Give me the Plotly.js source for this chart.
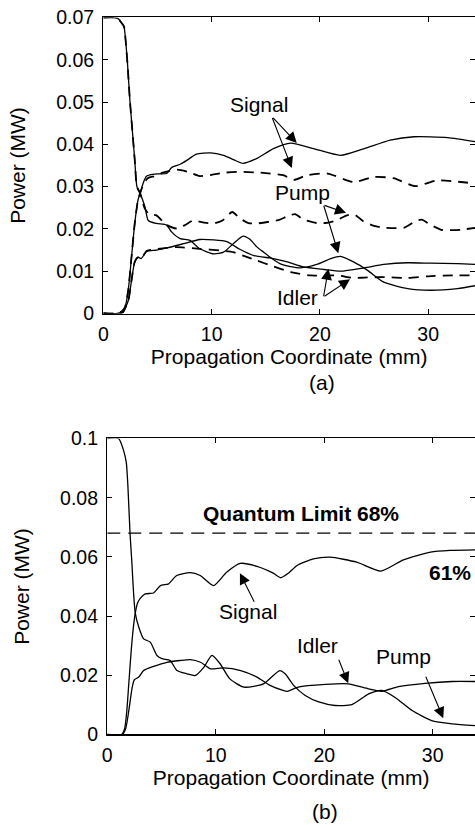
<!DOCTYPE html>
<html><head><meta charset="utf-8">
<script src="https://cdn.plot.ly/plotly-3.0.1.min.js"></script>
<style>html,body{margin:0;padding:0;background:#fff}#chart{width:475px;height:825px}</style>
</head><body><div id="chart"></div>
<script>
// ---------- Panel (a) ----------
const pumpA_x = [0,1.0,1.38,1.6,1.9,2.08,2.25,2.45,2.7,2.9,3.1,3.4,3.85,4.15,4.9,5.85,6.3,7.1,8.0,8.9,10.2,11.1,12.0,12.9,13.5,14.2,14.8,15.4,16.3,17.3,18.2,19.7,21.0,21.9,23.1,24.4,25.9,28.1,30.2,32.7,34.4];
const pumpA_y = [0.07,0.07,0.0697,0.069,0.0679,0.0639,0.0584,0.0505,0.0426,0.0363,0.030,0.0284,0.0252,0.022,0.0213,0.0209,0.0193,0.0177,0.0173,0.0153,0.0141,0.0145,0.0165,0.0183,0.0176,0.0157,0.0145,0.0133,0.0118,0.0111,0.0108,0.0116,0.0130,0.0135,0.0122,0.0102,0.0074,0.0059,0.0055,0.0059,0.0066];

const pumpB_x = [0,1.0,1.38,1.6,1.9,2.08,2.25,2.45,2.7,2.9,3.1,3.4,3.8,4.2,4.9,5.8,6.8,7.6,8.3,9.3,10.2,11.0,11.9,12.6,13.4,14.2,15.3,16.3,17.0,17.7,18.5,19.7,20.5,21.5,22.5,23.2,24.0,25.0,25.8,27.0,27.8,28.8,29.4,30.2,31.2,32.2,33.0,34.4];
const pumpB_y = [0.07,0.07,0.0697,0.069,0.0679,0.0639,0.0584,0.0505,0.0426,0.0363,0.030,0.0284,0.025,0.0235,0.0232,0.021,0.0201,0.021,0.022,0.0215,0.0213,0.022,0.024,0.0225,0.0214,0.0213,0.0217,0.0222,0.023,0.0235,0.0222,0.0214,0.0214,0.022,0.0232,0.0234,0.0218,0.0207,0.0203,0.0202,0.0203,0.0218,0.0222,0.021,0.0198,0.0197,0.0198,0.0203];

const sigA_x = [0,1.3,1.7,2.0,2.3,2.6,2.9,3.2,3.4,3.7,4.0,4.3,5.0,5.85,6.3,7.1,7.7,8.6,9.9,11.1,12.0,12.9,14.2,15.7,17.3,19.4,21.9,24.1,26.5,28.7,31.8,34.4];
const sigA_y = [0,0,0.0005,0.0015,0.0055,0.0133,0.0213,0.0268,0.0285,0.031,0.0325,0.0328,0.033,0.0331,0.0345,0.0353,0.0362,0.0377,0.038,0.0374,0.0364,0.0355,0.0367,0.039,0.0403,0.039,0.0374,0.039,0.041,0.0418,0.0416,0.0406];

const sigB_x = [0,1.3,1.7,2.0,2.3,2.6,2.9,3.2,3.4,3.7,4.1,4.8,5.5,6.8,7.8,8.9,10.0,11.2,12.6,14.5,16.6,17.6,18.8,20.7,23.1,25.0,26.8,28.8,30.8,33.0,34.4];
const sigB_y = [0,0,0.0005,0.0015,0.0055,0.0133,0.0213,0.0268,0.0285,0.0305,0.032,0.0325,0.0333,0.034,0.0335,0.0325,0.0328,0.0333,0.0335,0.0333,0.0327,0.0316,0.0327,0.0331,0.0311,0.0323,0.032,0.0301,0.0315,0.0311,0.0307];

const idlA_x = [0,1.5,1.8,2.3,2.6,2.9,3.2,3.5,4.0,4.9,5.85,7.4,8.9,10.2,11.4,12.6,13.9,15.7,17.0,18.5,20.4,21.9,24.1,25.9,28.1,30.2,32.7,34.4];
const idlA_y = [0,0,0.0003,0.003,0.0078,0.0122,0.0133,0.013,0.0147,0.015,0.0155,0.0165,0.0175,0.0174,0.017,0.0152,0.0137,0.013,0.0122,0.011,0.0104,0.010,0.0108,0.0116,0.012,0.0119,0.0118,0.0116];

const idlB_x = [0,1.5,1.8,2.3,2.6,2.9,3.2,3.5,4.0,4.9,5.85,6.8,8.9,10.8,12.0,12.9,14.2,15.4,17.3,19.1,21.6,23.1,24.1,25.9,28.1,30.0,32.3,34.4];
const idlB_y = [0,0,0.0003,0.003,0.0078,0.0122,0.0133,0.013,0.0148,0.0152,0.0155,0.0157,0.0153,0.0149,0.0145,0.0137,0.0125,0.0114,0.0098,0.009,0.009,0.0084,0.0085,0.0086,0.0084,0.0088,0.009,0.009];

// ---------- Panel (b) ----------
const pumpC_x = [0,1.04,1.5,1.75,1.9,2.1,2.27,2.42,2.58,2.9,3.35,3.96,4.58,5.04,5.8,6.42,7.35,8.1,8.9,9.65,10.4,11.3,12.6,14.4,15.9,16.4,17.2,18.25,19.5,21.0,22.55,24.1,25.3,26.5,28.1,29.9,31.8,33.9];
const pumpC_y = [0.1,0.1,0.096,0.092,0.084,0.0678,0.058,0.048,0.041,0.0363,0.0323,0.0312,0.0267,0.0256,0.025,0.0216,0.0205,0.0199,0.0227,0.0267,0.0239,0.0188,0.016,0.0171,0.0216,0.0205,0.0165,0.0132,0.011,0.0098,0.0101,0.0137,0.0149,0.0126,0.0081,0.0047,0.0036,0.003];

const sigC_x = [0,1.3,1.6,1.8,2.0,2.2,2.4,2.58,2.8,3.04,3.5,4.27,4.9,5.65,6.4,7.65,8.57,9.8,11.0,12.26,13.8,15.3,16.0,16.7,17.5,19.0,20.55,23.0,25.2,27.3,29.8,31.6,33.9];
const sigC_y = [0,0,0.002,0.008,0.018,0.028,0.036,0.041,0.0445,0.046,0.0475,0.0478,0.0503,0.0509,0.0537,0.0547,0.0537,0.0503,0.0548,0.0578,0.0568,0.0545,0.053,0.0545,0.0571,0.0593,0.0599,0.0582,0.0552,0.059,0.0616,0.0622,0.0624];

const idlC_x = [0,1.4,1.7,1.9,2.1,2.3,2.5,2.9,3.35,4.27,5.5,6.7,7.65,8.6,9.5,10.7,12.3,13.8,15.0,16.2,16.6,17.6,20.1,22.2,24.1,25.3,26.85,29.3,31.8,33.9];
const idlC_y = [0,0,0.002,0.006,0.011,0.016,0.0185,0.0194,0.0216,0.023,0.0244,0.025,0.0253,0.0244,0.0222,0.0225,0.0216,0.0194,0.0166,0.0149,0.0146,0.016,0.0169,0.0171,0.0154,0.0146,0.0162,0.0173,0.0179,0.0179];

const qlim_x = [0,33.9];
const qlim_y = [0.068,0.068];

// ticks
const xTicks = [0,10,20,30];
const yTicksA = [0,0.01,0.02,0.03,0.04,0.05,0.06,0.07];
const yTextA = ['0','0.01','0.02','0.03','0.04','0.05','0.06','0.07'];
const yTicksB = [0,0.02,0.04,0.06,0.08,0.1];
const yTextB = ['0','0.02','0.04','0.06','0.08','0.1'];

const FONT = 'Liberation Sans, Arial, sans-serif';
const solid = {color:'#000', width:1.3, shape:'spline', smoothing:0.6};
const dashed = {color:'#000', width:1.8, dash:'10px,7px', shape:'spline', smoothing:0.6};

function tr(x,y,line,xa,ya,name){return {x:x,y:y,mode:'lines',line:line,xaxis:xa,yaxis:ya,name:name,hoverinfo:'skip',showlegend:false};}

const data = [
  tr(pumpA_x,pumpA_y,solid,'x','y','Pump (solid)'),
  tr(sigA_x,sigA_y,solid,'x','y','Signal (solid)'),
  tr(idlA_x,idlA_y,solid,'x','y','Idler (solid)'),
  tr(pumpB_x,pumpB_y,dashed,'x','y','Pump (dashed)'),
  tr(sigB_x,sigB_y,dashed,'x','y','Signal (dashed)'),
  tr(idlB_x,idlB_y,dashed,'x','y','Idler (dashed)'),
  tr(pumpC_x,pumpC_y,solid,'x2','y2','Pump'),
  tr(sigC_x,sigC_y,solid,'x2','y2','Signal'),
  tr(idlC_x,idlC_y,solid,'x2','y2','Idler'),
  tr(qlim_x,qlim_y,{color:'#000',width:1.2,dash:'13px,8px'},'x2','y2','Quantum Limit')
];

function xax(dom,rng,anchor){return {domain:dom,range:rng,anchor:anchor,tickvals:xTicks,ticktext:xTicks.map(String),
  ticks:'inside',ticklen:5,tickwidth:1,tickcolor:'#000',showline:true,linecolor:'#000',linewidth:1.3,mirror:'ticks',
  showgrid:false,zeroline:false,tickfont:{family:FONT,size:19.5,color:'#000'},ticklabelstandoff:3,
  title:{text:'Propagation Coordinate (mm)',font:{family:FONT,size:21,color:'#000'},standoff:4},automargin:false};}
function yax(dom,rng,anchor,tv,tt){return {domain:dom,range:rng,anchor:anchor,tickvals:tv,ticktext:tt,
  ticks:'inside',ticklen:5,tickwidth:1,tickcolor:'#000',showline:true,linecolor:'#000',linewidth:1.3,mirror:'ticks',
  showgrid:false,zeroline:false,tickfont:{family:FONT,size:19.5,color:'#000'},ticklabelstandoff:4,
  title:{text:'Power (MW)',font:{family:FONT,size:21,color:'#000'},standoff:24},automargin:false};}

const annFont = {family:FONT,size:21,color:'#000'};
function lab(x,y,t,xr,yr,bold){return {x:x,y:y,xref:xr,yref:yr,text:bold?'<b>'+t+'</b>':t,showarrow:false,font:annFont,xanchor:'center',yanchor:'middle'};}
function arr(x,y,ax,ay,xr,yr){return {x:x,y:y,xref:xr,yref:yr,ax:ax,ay:ay,text:'',showarrow:true,arrowhead:2,arrowsize:2,arrowwidth:1.1,arrowcolor:'#000',standoff:0,startstandoff:0};}

const annotations = [
  lab(14.36,0.0494,'Signal','x','y'),
  arr(17.86,0.0403,-25,-26.6,'x','y'),
  arr(17.40,0.0344,-20,-51.6,'x','y'),
  lab(18.35,0.0285,'Pump','x','y'),
  arr(22.41,0.0238,-23,-8,'x','y'),
  arr(21.70,0.01425,-15,-49,'x','y'),
  lab(17.93,0.00367,'Idler','x','y'),
  arr(20.78,0.01058,-5,29,'x','y'),
  arr(22.78,0.0081,-27,18,'x','y'),
  {x:0.589,y:0.5358,xref:'paper',yref:'paper',text:'(a)',showarrow:false,font:annFont,xanchor:'center',yanchor:'middle'},
  lab(12.97,0.0414,'Signal','x2','y2'),
  arr(12.23,0.0545,15,30,'x2','y2'),
  lab(19.42,0.0302,'Idler','x2','y2'),
  arr(22.21,0.0173,-10,-25,'x2','y2'),
  lab(27.35,0.0262,'Pump','x2','y2'),
  arr(30.97,0.0055,-18,-43,'x2','y2'),
  lab(17.85,0.0748,'Quantum Limit 68%','x2','y2',true),
  lab(31.59,0.0546,'61%','x2','y2',true),
  {x:0.598,y:0.0158,xref:'paper',yref:'paper',text:'(b)',showarrow:false,font:annFont,xanchor:'center',yanchor:'middle'}
];

const layout = {
  width:475,height:825,margin:{l:103,r:0,t:0,b:0},
  paper_bgcolor:'#fff',plot_bgcolor:'#fff',showlegend:false,
  font:{family:FONT,color:'#000'},
  xaxis:xax([0.0009,1],[0,34.32],'y'),
  yaxis:yax([0.62,0.9788],[0,0.07],'x',yTicksA,yTextA),
  xaxis2:xax([0.0115,1],[0,33.9],'y2'),
  yaxis2:yax([0.1097,0.4685],[0,0.1],'x2',yTicksB,yTextB),
  annotations:annotations
};

Plotly.newPlot('chart',data,layout,{displayModeBar:false,staticPlot:true});
</script></body></html>
